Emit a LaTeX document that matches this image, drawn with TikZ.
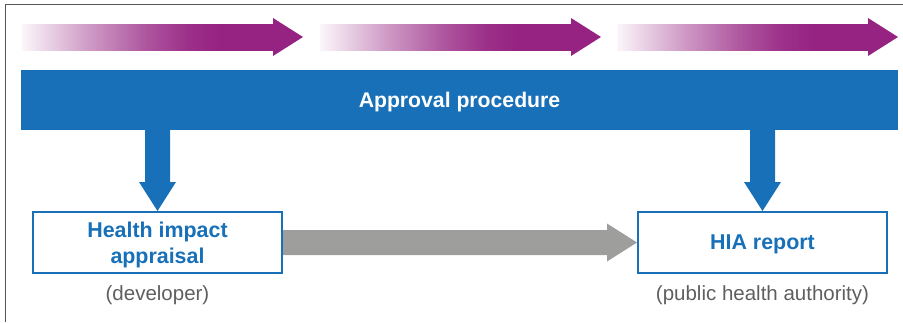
\documentclass[tikz,border=0pt]{standalone}
\usepackage{fontspec}
\setmainfont{Liberation Sans}
\usetikzlibrary{calc}
\definecolor{hiablue}{RGB}{23,112,184}
\definecolor{purp}{RGB}{150,35,130}
\definecolor{arrgrey}{RGB}{158,158,157}
\definecolor{subgrey}{RGB}{95,95,95}
\definecolor{framegrey}{RGB}{85,85,85}
\pgfdeclarehorizontalshading{purpfade}{100bp}{color(0bp)=(white); color(25bp)=(purp!4!white); color(38bp)=(purp!45!white); color(50bp)=(purp!78!white); color(58bp)=(purp!94!white); color(64bp)=(purp); color(100bp)=(purp)}
\tikzset{
  bar/.style={fill=hiablue, minimum width=877pt, minimum height=60pt, inner sep=0pt,
    text=white, text depth=0pt, font=\fontsize{21.2}{26}\selectfont\bfseries},
  outbox/.style={draw=hiablue, line width=2pt, fill=white, minimum width=249pt, minimum height=61pt,
    inner sep=0pt, text=hiablue, text depth=0pt, align=center, font=\fontsize{21.4}{26}\selectfont\bfseries},
  sublabel/.style={text=subgrey, inner sep=0pt, font=\fontsize{20.5}{24}\selectfont},
  bluearrow/.style={fill=hiablue},
  greyarrow/.style={fill=arrgrey},
  framelines/.style={draw=framegrey, line width=1.5pt}
}
\newcommand{\purparrow}[1]{%
  \fill[purp] (#1+250,24) -- ++(1,0) -- ++(0,-6) -- ++(30,19) -- ++(-30,19) -- ++(0,-6) -- ++(-1,0) -- cycle;
  \shade[shading=purpfade] (#1,24) rectangle ++(251.5,26);
}
\begin{document}
\begin{tikzpicture}[x=1pt,y=-1pt]
\useasboundingbox (0,0) rectangle (903,322);
% frame
\draw[framelines] (5.5,322) -- (5.5,4.5) -- (903,4.5);
% purple process arrows
\purparrow{22}
\purparrow{320}
\purparrow{617}
% approval bar
\node[bar] (bar) at (459.5,100) {Approval procedure};
% boxes
\node[outbox] (hia) at (157.5,242.5) {Health impact\\appraisal};
\node[outbox] (rep) at (762.5,242.5) {HIA report};
% labels
\node[sublabel] (dev) at ($(hia.south)+(0,21)$) {(developer)};
\node[sublabel] (pha) at ($(rep.south)+(0,21)$) {(public health authority)};
% blue down arrows
\fill[bluearrow] (hia.north) -- ++(-18.5,-29) -- ++(6,0) -- ++(0,-53) -- ++(25,0) -- ++(0,53) -- ++(6,0) -- cycle;
\fill[bluearrow] (rep.north) -- ++(-18.5,-29) -- ++(6,0) -- ++(0,-53) -- ++(25,0) -- ++(0,53) -- ++(6,0) -- cycle;
% grey arrow
\fill[greyarrow] (rep.west) -- ++(-30,-19) -- ++(0,6.5) -- ++(-324,0) -- ++(0,25) -- ++(324,0) -- ++(0,6.5) -- cycle;
\end{tikzpicture}
\end{document}
